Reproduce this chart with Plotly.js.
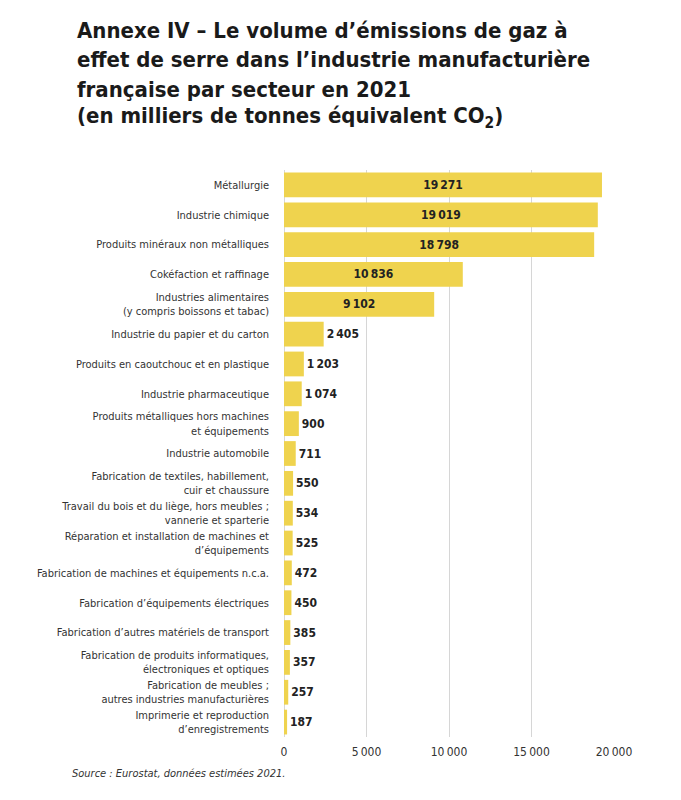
<!DOCTYPE html>
<html>
<head>
<meta charset="utf-8">
<script src="https://cdn.plot.ly/plotly-3.0.1.min.js"></script>
<style>html,body{margin:0;padding:0;background:#fff;}#chart{width:681px;height:800px;}</style>
</head>
<body>
<div id="chart"></div>
<script>
var sectors = [
  "Métallurgie",
  "Industrie chimique",
  "Produits minéraux non métalliques",
  "Cokéfaction et raffinage",
  "Industries alimentaires<br>(y compris boissons et tabac)",
  "Industrie du papier et du carton",
  "Produits en caoutchouc et en plastique",
  "Industrie pharmaceutique",
  "Produits métalliques hors machines<br>et équipements",
  "Industrie automobile",
  "Fabrication de textiles, habillement,<br>cuir et chaussure",
  "Travail du bois et du liège, hors meubles ;<br>vannerie et sparterie",
  "Réparation et installation de machines et<br>d’équipements",
  "Fabrication de machines et équipements n.c.a.",
  "Fabrication d’équipements électriques",
  "Fabrication d’autres matériels de transport",
  "Fabrication de produits informatiques,<br>électroniques et optiques",
  "Fabrication de meubles ;<br>autres industries manufacturières",
  "Imprimerie et reproduction<br>d’enregistrements"
];
var emissions = [19271, 19019, 18798, 10836, 9102, 2405, 1203, 1074, 900, 711, 550, 534, 525, 472, 450, 385, 357, 257, 187];
var xTicks = [0, 5000, 10000, 15000, 20000];
var titleLines = [
  "Annexe IV – Le volume d’émissions de gaz à",
  "effet de serre dans l’industrie manufacturière",
  "française par secteur en 2021",
  "(en milliers de tonnes équivalent CO<sub>2</sub>)"
];
var sourceText = "Source : Eurostat, données estimées 2021.";

var narrow = "Liberation Sans Narrow, DejaVu Sans Condensed, Arial Narrow, sans-serif";

var positions = emissions.map(function(v){ return v > 5000 ? "inside" : "outside"; });

var trace = {
  type: "bar",
  orientation: "h",
  y: sectors,
  x: emissions,
  marker: {color: "#EFD34E", line: {width: 0}},
  texttemplate: "%{x:,}",
  textposition: positions,
  insidetextanchor: "middle",
  textfont: {family: narrow, size: 12, color: "#222", weight: "bold"},
  insidetextfont: {family: narrow, size: 12, color: "#222", weight: "bold"},
  outsidetextfont: {family: narrow, size: 12, color: "#222", weight: "bold"},
  cliponaxis: false,
  hoverinfo: "none"
};

var W = 681, H = 800, mL = 284, mR = 67, mT = 170, mB = 63;
var pw = W - mL - mR, ph = H - mT - mB;
var titleY = [31, 60, 89, 117];

var annotations = titleLines.map(function(t, i){
  return {
    text: t, xref: "paper", yref: "paper",
    x: (75 - mL) / pw, y: (H - mB - titleY[i]) / ph,
    xanchor: "left", yanchor: "middle",
    showarrow: false,
    font: {family: narrow, size: 22, color: "#1a1a1a", weight: "bold"}
  };
});
annotations.push({
  text: sourceText, xref: "paper", yref: "paper",
  x: (70 - mL) / pw, y: (H - mB - 773) / ph,
  xanchor: "left", yanchor: "middle", showarrow: false,
  font: {family: narrow, size: 11, color: "#333", style: "italic"}
});

var layout = {
  width: W, height: H,
  margin: {l: mL, r: mR, t: mT, b: mB},
  paper_bgcolor: "#fff", plot_bgcolor: "#fff",
  separators: ",\u202f",
  showlegend: false,
  bargap: 0.17,
  xaxis: {
    range: [0, 20000],
    tickvals: xTicks,
    tickformat: ",",
    showgrid: true, gridcolor: "#d6d6d6", gridwidth: 1,
    zeroline: true, zerolinecolor: "#d6d6d6", zerolinewidth: 1,
    showline: false, ticks: "",
    ticklabelstandoff: 6,
    tickfont: {family: narrow, size: 12, color: "#333"},
    fixedrange: true
  },
  yaxis: {
    autorange: "reversed",
    showgrid: false, zeroline: false, showline: false, ticks: "",
    ticklabelstandoff: 14,
    tickfont: {family: narrow, size: 11, color: "#333"},
    fixedrange: true
  },
  annotations: annotations
};

Plotly.newPlot("chart", [trace], layout, {displayModeBar: false, staticPlot: true});
</script>
</body>
</html>
